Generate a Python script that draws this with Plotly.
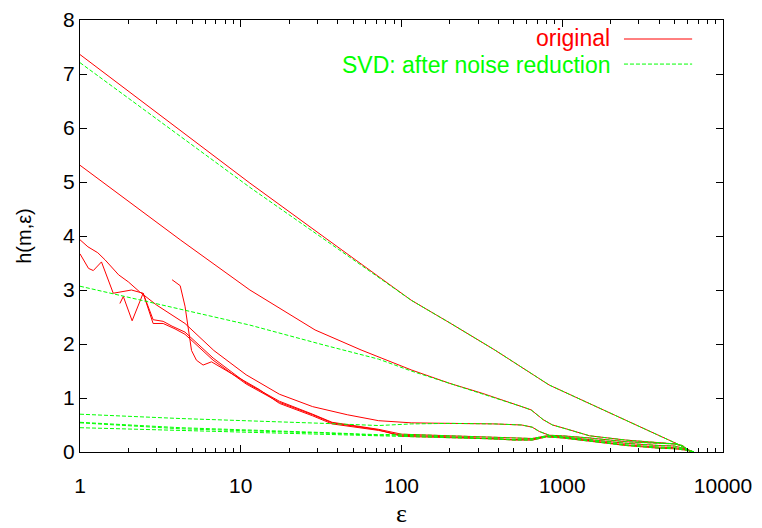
import plotly.graph_objects as go

# ---------------- data ----------------
eps_r1 = [1, 11.4, 33, 115, 200, 380, 830, 1700, 5370, 6300]
h_r1 = [7.36, 4.98, 3.98, 2.81, 2.39, 1.89, 1.24, 0.81, 0.13, 0.0]

eps_g1 = [1, 11.4, 33, 80, 115, 200, 380, 830, 1700, 5370, 6300]
h_g1 = [7.21, 4.90, 3.94, 3.15, 2.81, 2.39, 1.89, 1.24, 0.81, 0.13, 0.0]

eps_r2 = [1, 4.2, 11.4, 29, 56, 72, 115, 200, 316, 560, 640, 760, 870, 1000,
          1480, 2500, 4000, 5000, 5600, 6300]
h_r2 = [5.31, 3.93, 3.0, 2.26, 1.89, 1.76, 1.52, 1.27, 1.09, 0.84, 0.78, 0.60,
        0.50, 0.45, 0.30, 0.22, 0.17, 0.15, 0.12, 0.0]

eps_g2 = [1, 11.4, 33, 72, 115, 200, 316, 560, 640, 760, 870, 1000,
          1480, 2500, 4000, 5000, 5600, 6300]
h_g2 = [3.07, 2.35, 1.98, 1.72, 1.50, 1.27, 1.09, 0.84, 0.78, 0.60,
        0.50, 0.45, 0.30, 0.22, 0.17, 0.15, 0.12, 0.0]

eps_r3 = [1, 1.12, 1.29, 1.43, 1.74, 2.0, 2.34, 3.0, 4.5, 6.8, 10.8, 17.4, 28,
          46, 72, 115, 200, 380, 560, 650, 720, 830, 1000, 1480, 2500, 4000,
          5000, 5600, 6300]
h_r3 = [3.93, 3.80, 3.69, 3.56, 3.28, 3.15, 2.97, 2.72, 2.38, 1.88, 1.43, 1.07,
        0.84, 0.69, 0.58, 0.54, 0.53, 0.52, 0.50, 0.46, 0.38, 0.31, 0.30, 0.26,
        0.19, 0.16, 0.15, 0.11, 0.0]

eps_g3 = [1, 4.2, 33, 72, 115, 200, 380, 560, 650, 720, 830, 1000, 1480, 2500,
          4000, 5000, 5600, 6300]
h_g3 = [0.70, 0.62, 0.53, 0.49, 0.52, 0.53, 0.52, 0.50, 0.46, 0.38, 0.31, 0.30,
        0.26, 0.19, 0.16, 0.15, 0.11, 0.0]

eps_r4 = [1, 1.13, 1.21, 1.36, 1.61, 1.86, 2.09, 2.47, 2.85, 3.29, 3.74, 4.5,
          6.73, 10.8, 17.4, 28, 37, 72]
h_r4 = [3.67, 3.40, 3.36, 3.52, 2.94, 2.97, 3.00, 2.94, 2.45, 2.42, 2.33, 2.22,
        1.74, 1.28, 0.94, 0.70, 0.55, 0.42]

eps_r5 = [1.77, 1.86, 2.11, 2.47, 2.85, 3.29, 3.9, 4.5, 6.73, 10.8, 17.4, 28,
          37, 72]
h_r5 = [2.75, 2.88, 2.43, 2.94, 2.38, 2.38, 2.28, 2.18, 1.70, 1.26, 0.92, 0.69,
        0.54, 0.41]

eps_r6 = [3.74, 4.2, 4.5, 4.75, 4.94, 5.3, 5.83, 6.58, 7.2, 8.9, 13, 17.4, 28,
          37, 72]
h_r6 = [3.19, 3.08, 2.70, 2.26, 1.88, 1.70, 1.61, 1.67, 1.60, 1.44, 1.16, 0.90,
        0.67, 0.52, 0.40]

eps_g4 = [1, 4.2, 33, 72]
h_g4 = [0.55, 0.45, 0.36, 0.32]
eps_g5 = [1, 4.2, 33, 72]
h_g5 = [0.45, 0.40, 0.34, 0.30]
eps_g6 = [1, 4.2, 33, 72]
h_g6 = [0.54, 0.43, 0.35, 0.31]

# common tails of the lower bundle
eps_tail = [100, 200, 400, 500, 650, 800, 1000, 1480, 2500, 4000, 5000, 6000, 6600]
tail_a = [0.33, 0.30, 0.27, 0.25, 0.25, 0.30, 0.28, 0.23, 0.16, 0.12, 0.11, 0.05, 0.0]
tail_b = [0.31, 0.28, 0.25, 0.23, 0.24, 0.29, 0.27, 0.21, 0.13, 0.09, 0.08, 0.04, 0.0]
tail_c = [0.29, 0.27, 0.24, 0.22, 0.22, 0.28, 0.26, 0.20, 0.12, 0.07, 0.06, 0.03, 0.0]

x_ticks = [1, 10, 100, 1000, 10000]
x_tick_text = ["1", "10", "100", "1000", "10000"]
x_minor_mult = [2, 3, 4, 5, 6, 7, 8, 9]
y_ticks = [0, 1, 2, 3, 4, 5, 6, 7, 8]

x_minor_ticks = [m * d for d in x_ticks[:-1] for m in x_minor_mult]

RED = "#ff0000"
GREEN = "#00ff00"

red_curves = [
    (eps_r1, h_r1),
    (eps_r2, h_r2),
    (eps_r3, h_r3),
    (eps_r4 + eps_tail, h_r4 + tail_a),
    (eps_r5 + eps_tail, h_r5 + tail_c),
    (eps_r6 + eps_tail, h_r6 + tail_b),
]
green_curves = [
    (eps_g1, h_g1),
    (eps_g2, h_g2),
    (eps_g3, h_g3),
    (eps_g4 + eps_tail, h_g4 + tail_a),
    (eps_g5 + eps_tail, h_g5 + tail_c),
    (eps_g6 + eps_tail, h_g6 + tail_b),
]

fig = go.Figure()
for xs, ys in red_curves:
    fig.add_trace(go.Scatter(x=xs, y=ys, mode="lines", showlegend=False,
                             line=dict(color=RED, width=1)))
for xs, ys in green_curves:
    fig.add_trace(go.Scatter(x=xs, y=ys, mode="lines", showlegend=False,
                             line=dict(color=GREEN, width=1, dash="4px,2px")))

# legend (text to the left of the sample, as in the original)
LEG_X = 0.828
fig.add_annotation(x=LEG_X, y=0.958, xref="paper", yref="paper", text="original",
                   showarrow=False, xanchor="right", yanchor="middle",
                   font=dict(color=RED, size=23, family="Liberation Sans"))
fig.add_annotation(x=LEG_X, y=0.896, xref="paper", yref="paper",
                   text="SVD: after noise reduction", showarrow=False,
                   xanchor="right", yanchor="middle",
                   font=dict(color=GREEN, size=23, family="Liberation Sans"))
fig.add_shape(type="line", xref="paper", yref="paper", x0=0.846, x1=0.952,
              y0=0.956, y1=0.956, line=dict(color=RED, width=1))
fig.add_shape(type="line", xref="paper", yref="paper", x0=0.846, x1=0.952,
              y0=0.898, y1=0.898, line=dict(color=GREEN, width=1, dash="4px,2px"))

fig.update_layout(
    width=762, height=528,
    margin=dict(l=80, r=39, t=20, b=76),
    paper_bgcolor="white", plot_bgcolor="white",
    font=dict(family="Liberation Sans", size=21, color="black"),
    xaxis=dict(type="log", range=[0, 4], tickmode="array", tickvals=x_ticks,
               ticktext=x_tick_text, ticks="inside", ticklen=7, tickcolor="black",
               showline=True, linecolor="black", linewidth=1, mirror="allticks",
               showgrid=False, zeroline=False, ticklabelstandoff=15,
               automargin=False,
               minor=dict(tickmode="array", tickvals=x_minor_ticks,
                          ticks="inside", ticklen=4, tickcolor="black",
                          showgrid=False),
               title=dict(text="ε", font=dict(family="Liberation Serif", size=26),
                          standoff=7)),
    yaxis=dict(range=[0, 8], tickmode="array", tickvals=y_ticks,
               ticks="inside", ticklen=7, tickcolor="black",
               showline=True, linecolor="black", linewidth=1, mirror="allticks",
               showgrid=False, zeroline=False, ticklabelstandoff=0,
               automargin=False,
               title=dict(text="h(m,ε)", font=dict(family="Liberation Sans", size=20),
                          standoff=26)),
)

fig.write_html("out.html")
